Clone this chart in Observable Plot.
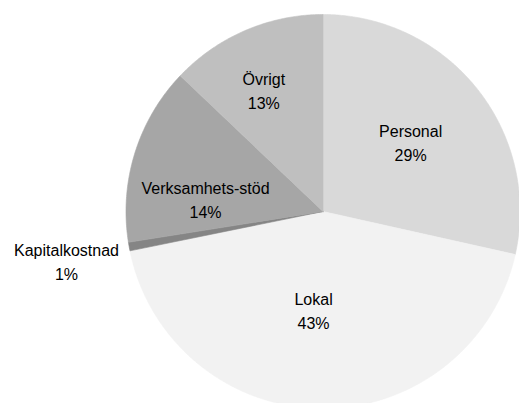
<!DOCTYPE html>
<html>
<head>
<meta charset="utf-8">
<script src="https://cdn.jsdelivr.net/npm/d3@7"></script>
<script src="https://cdn.jsdelivr.net/npm/@observablehq/plot@0.6"></script>
<style>
  html, body { margin: 0; padding: 0; background: #fff; }
  #chart svg { display: block; }
</style>
</head>
<body>
<div id="chart"></div>
<script>
// Data (clockwise from 12 o'clock)
const categories = ["Personal", "Lokal", "Kapitalkostnad", "Verksamhets-stöd", "Övrigt"];
const values = [28.5, 43.3, 0.7, 14.6, 12.9];
const percentLabels = ["29%", "43%", "1%", "14%", "13%"];
const colors = ["#d9d9d9", "#f2f2f2", "#858585", "#a6a6a6", "#bfbfbf"];

// Label placement (layout): angle (deg clockwise from top) and radius fraction
const labelLayout = [
  {deg: 51.3, r: 0.57},
  {deg: 185.5, r: 0.5},
  {deg: 259.3, r: 1.325},
  {deg: 276.3, r: 0.6},
  {deg: 334.2, r: 0.69}
];

const total = d3.sum(values);
let acc = 0;
const slices = categories.map((name, i) => {
  const a0 = acc / total * 2 * Math.PI;
  acc += values[i];
  const a1 = acc / total * 2 * Math.PI;
  return {name, a0, a1, i};
});

// Build polygon points for each slice (unit circle, y up)
const pts = [];
for (const s of slices) {
  pts.push({name: s.name, x: 0, y: 0});
  const n = Math.max(2, Math.ceil((s.a1 - s.a0) / (Math.PI / 360)));
  for (let k = 0; k <= n; k++) {
    const a = s.a0 + (s.a1 - s.a0) * k / n;
    pts.push({name: s.name, x: Math.sin(a), y: Math.cos(a)});
  }
  pts.push({name: s.name, x: 0, y: 0});
}

const labels = categories.map((name, i) => {
  const L = labelLayout[i];
  const a = L.deg * Math.PI / 180;
  return {text: name + "\n" + percentLabels[i], x: Math.sin(a) * L.r, y: Math.cos(a) * L.r};
});

const cx = 322.5, cy = 211, R = 197;
const chart = Plot.plot({
  width: 519,
  height: 403,
  margin: 0,
  style: {fontFamily: "'Liberation Sans', Arial, sans-serif", background: "#fff"},
  x: {domain: [-1, 1], range: [cx - R, cx + R], axis: null},
  y: {domain: [-1, 1], range: [cy + R, cy - R], axis: null},
  color: {domain: categories, range: colors},
  marks: [
    Plot.line(pts, {x: "x", y: "y", z: "name", fill: "name", stroke: "name", strokeWidth: 0.6, curve: "linear"}),
    Plot.text(labels, {x: "x", y: "y", text: "text", fontSize: 16, lineHeight: 1.5, fill: "#000", lineAnchor: "middle"})
  ]
});
document.getElementById("chart").appendChild(chart);
</script>
</body>
</html>
